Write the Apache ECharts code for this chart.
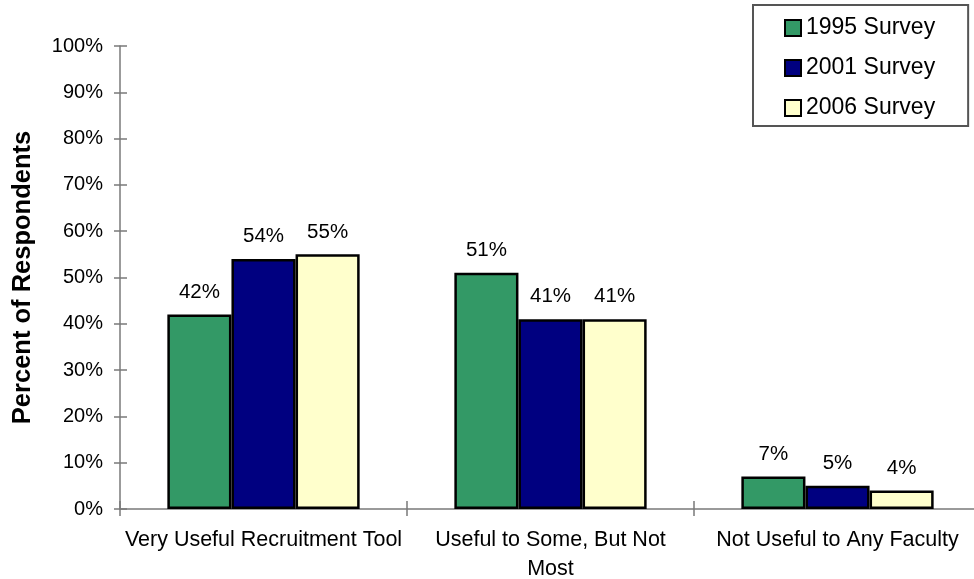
<!DOCTYPE html>
<html>
<head>
<meta charset="utf-8">
<script src="https://cdn.jsdelivr.net/npm/echarts@6/dist/echarts.min.js"></script>
<style>
  html, body { margin: 0; padding: 0; background: #fff; }
  #chart { width: 974px; height: 579px; }
</style>
</head>
<body>
<div id="chart"></div>
<script>
// Usefulness ratings by survey year
const categories = [
  'Very Useful Recruitment Tool',
  'Useful to Some, But Not\nMost',
  'Not Useful to Any Faculty'
];
const seriesNames = ['1995 Survey', '2001 Survey', '2006 Survey'];
const survey1995 = [42, 51, 7];
const survey2001 = [54, 41, 5];
const survey2006 = [55, 41, 4];
const seriesColors = ['#339966', '#000080', '#FFFFCC'];
const yMin = 0, yMax = 100, yStep = 10;

const FONT = 'Liberation Sans, Arial, sans-serif';
const AXIS_GREY = '#7a7a7a';

const chart = echarts.init(document.getElementById('chart'), null, { renderer: 'canvas' });

const values = [survey1995, survey2001, survey2006];

const option = {
  backgroundColor: '#ffffff',
  animation: false,
  textStyle: { fontFamily: FONT, color: '#000' },
  legend: {
    orient: 'vertical',
    left: 753,
    top: 5,
    padding: [11, 33, 6, 31],
    itemWidth: 16,
    itemHeight: 16,
    itemGap: 16,
    icon: 'rect',
    borderColor: '#555',
    borderWidth: 2,
    backgroundColor: '#fff',
    textStyle: { fontFamily: FONT, fontSize: 23, color: '#000', lineHeight: 24 },
    data: seriesNames
  },
  grid: {
    left: 120, top: 46, bottom: 70, right: -7,
    containLabel: false,
    outerBoundsMode: 'none'
  },
  xAxis: [
    {
      type: 'category',
      data: categories,
      position: 'bottom',
      axisLine: { show: true, lineStyle: { color: AXIS_GREY, width: 1.5 } },
      axisTick: { show: true, inside: false, length: 7, lineStyle: { color: AXIS_GREY, width: 1.5 } },
      axisLabel: { fontFamily: FONT, fontSize: 21.5, color: '#000', margin: 17, lineHeight: 29, interval: 0 },
      splitLine: { show: false }
    },
    {
      // inner half of the crossing tick marks
      type: 'category',
      data: categories,
      position: 'bottom',
      axisLine: { show: false },
      axisTick: { show: true, inside: true, length: 8, lineStyle: { color: AXIS_GREY, width: 1.5 } },
      axisLabel: { show: false },
      splitLine: { show: false }
    }
  ],
  yAxis: [
    {
      type: 'value',
      min: yMin, max: yMax, interval: yStep,
      position: 'left',
      name: 'Percent of Respondents',
      nameLocation: 'middle',
      nameGap: 84,
      nameTextStyle: { fontFamily: FONT, fontSize: 25.5, fontWeight: 'bold', color: '#000' },
      axisLine: { show: true, lineStyle: { color: AXIS_GREY, width: 1.5 } },
      axisTick: { show: true, inside: false, length: 6, lineStyle: { color: AXIS_GREY, width: 1.5 } },
      axisLabel: { fontFamily: FONT, fontSize: 20, color: '#000', margin: 17, formatter: '{value}%' },
      splitLine: { show: false }
    },
    {
      // inner half of the crossing tick marks
      type: 'value',
      min: yMin, max: yMax, interval: yStep,
      position: 'left',
      axisLine: { show: false },
      axisTick: { show: true, inside: true, length: 7, lineStyle: { color: AXIS_GREY, width: 1.5 } },
      axisLabel: { show: false },
      splitLine: { show: false }
    }
  ],
  series: seriesNames.map((name, i) => ({
    name: name,
    type: 'bar',
    xAxisIndex: 0,
    yAxisIndex: 0,
    data: values[i],
    barGap: '0%',
    barCategoryGap: '33%',
    itemStyle: { color: seriesColors[i], borderColor: '#000', borderWidth: 2.5 },
    label: {
      show: true,
      position: 'top',
      distance: 12,
      formatter: '{c}%',
      fontFamily: FONT,
      fontSize: 20.5,
      color: '#000'
    }
  }))
};

chart.setOption(option);
</script>
</body>
</html>
